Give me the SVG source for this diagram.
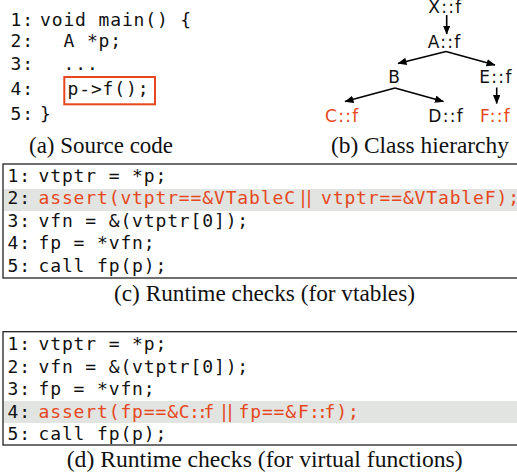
<svg xmlns="http://www.w3.org/2000/svg" width="517" height="476" viewBox="0 0 517 476">
<defs>
<style>
.code{font-family:"DejaVu Sans Mono",monospace;font-size:18px;letter-spacing:0.86px;fill:#111}
.cap{font-family:"Liberation Serif",serif;font-size:23px;text-anchor:middle;fill:#111}
.cls{font-family:"DejaVu Sans",sans-serif;font-size:17px;letter-spacing:1.3px;fill:#111}
.bar{font-family:"DejaVu Sans",sans-serif;font-size:18px}
.edge{stroke:#000;stroke-width:1.6;fill:none;marker-end:url(#ah)}
.frame{fill:none;stroke:#222;stroke-width:1.3}
.hl{fill:#e1e4e1}
.red{fill:#e6471d}
</style>
<marker id="ah" markerUnits="userSpaceOnUse" markerWidth="9" markerHeight="8" refX="8.5" refY="3.75" orient="auto">
<path d="M0,0 L9,3.75 L0,7.5 z" fill="#000"/>
</marker>
</defs>

<g id="source-code">
<text class="code" x="10.5" y="26">1:</text><text class="code" x="40" y="26">void main() {</text>
<text class="code" x="10.5" y="47.3">2:</text><text class="code" x="63.5" y="47.3">A *p;</text>
<text class="code" x="10.5" y="70">3:</text><text class="code" x="63.5" y="70">...</text>
<text class="code" x="10.5" y="95">4:</text><rect x="64.3" y="77" width="90.7" height="27.3" fill="none" stroke="#e6471d" stroke-width="2"/><text class="code" x="67.5" y="95">p-&gt;f();</text>
<text class="code" x="10.5" y="120">5:</text><text class="code" x="40" y="120">}</text>
<text class="cap" x="101" y="152.7" textLength="144" lengthAdjust="spacingAndGlyphs">(a) Source code</text>
</g>

<g id="hierarchy">
<g id="node-X"><text class="cls" x="428.3" y="13">X::f</text></g>
<g id="node-A"><text class="cls" x="427.7" y="48.3">A::f</text></g>
<g id="node-B"><text class="cls" x="388.3" y="83.3">B</text></g>
<g id="node-E"><text class="cls" x="479.3" y="83.3">E::f</text></g>
<g id="node-C"><text class="cls red" x="325" y="121.7">C::f</text></g>
<g id="node-D"><text class="cls" x="428.3" y="121.7">D::f</text></g>
<g id="node-F"><text class="cls red" x="480" y="121.7">F::f</text></g>
<text class="cap" x="419.9" y="152.7" textLength="178" lengthAdjust="spacingAndGlyphs">(b) Class hierarchy</text>
</g>

<g id="connectors">
<line class="edge" x1="446.7" y1="15" x2="446.7" y2="34"/>
<line class="edge" x1="446" y1="51.5" x2="398" y2="63.5"/>
<line class="edge" x1="446" y1="51.5" x2="495" y2="65"/>
<line class="edge" x1="395" y1="88" x2="345" y2="101.5"/>
<line class="edge" x1="395" y1="88" x2="443.5" y2="101.5"/>
<line class="edge" x1="496.7" y1="87.5" x2="496.7" y2="103.5"/>
</g>

<g id="vtable-checks">
<rect class="hl" x="3.6" y="189" width="514" height="22"/>
<rect class="frame" x="3" y="164" width="520" height="114"/>
<text class="code" x="7.5" y="181.5">1:</text><text class="code" x="38.5" y="181.5">vtptr = *p;</text>
<text class="code" x="7.5" y="204">2:</text><text class="code red" x="38.5" y="204">assert(vtptr==&amp;VTableC</text><text class="bar red" x="300" y="204">||</text><text class="code red" x="321" y="204">vtptr==&amp;VTableF);</text>
<text class="code" x="7.5" y="226.5">3:</text><text class="code" x="38.5" y="226.5">vfn = &amp;(vtptr[0]);</text>
<text class="code" x="7.5" y="249">4:</text><text class="code" x="38.5" y="249">fp = *vfn;</text>
<text class="code" x="7.5" y="271.5">5:</text><text class="code" x="38.5" y="271.5">call fp(p);</text>
<text class="cap" x="264.5" y="300.7" textLength="301" lengthAdjust="spacingAndGlyphs">(c) Runtime checks (for vtables)</text>
</g>

<g id="vfunc-checks">
<rect class="hl" x="3.6" y="401" width="514" height="22"/>
<rect class="frame" x="3" y="331.7" width="520" height="113.3"/>
<text class="code" x="7.5" y="350">1:</text><text class="code" x="38.5" y="350">vtptr = *p;</text>
<text class="code" x="7.5" y="372.5">2:</text><text class="code" x="38.5" y="372.5">vfn = &amp;(vtptr[0]);</text>
<text class="code" x="7.5" y="395">3:</text><text class="code" x="38.5" y="395">fp = *vfn;</text>
<text class="code" x="7.5" y="417.5">4:</text>
<text class="code red" y="417.5"><tspan x="38.5">assert(fp==&amp;C</tspan><tspan x="189 197">::</tspan><tspan x="203.5">f</tspan></text>
<text class="bar red" x="221" y="417.5">||</text>
<text class="code red" y="417.5"><tspan x="238.5">fp==&amp;</tspan><tspan x="298">F</tspan><tspan x="309 317">::</tspan><tspan x="324.5">f);</tspan></text>
<text class="code" x="7.5" y="440">5:</text><text class="code" x="38.5" y="440">call fp(p);</text>
<text class="cap" x="264.7" y="466.7" textLength="396" lengthAdjust="spacingAndGlyphs">(d) Runtime checks (for virtual functions)</text>
</g>
</svg>
